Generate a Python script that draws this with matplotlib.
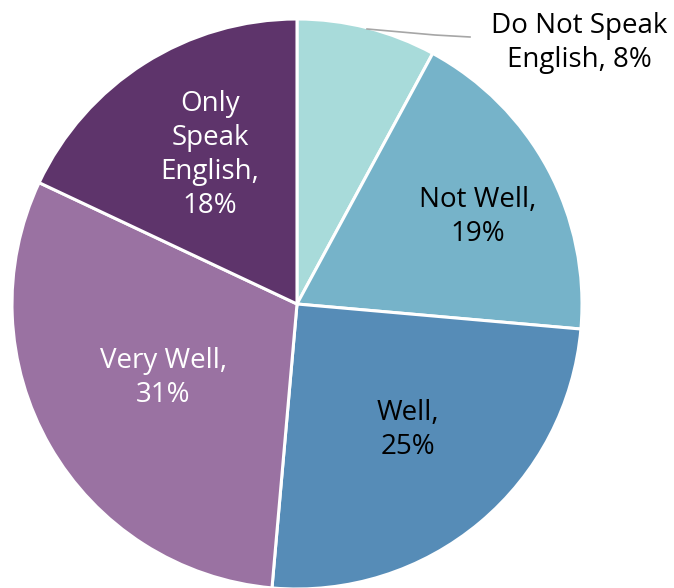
import matplotlib
matplotlib.use("Agg")
import matplotlib.pyplot as plt

labels = ["Do Not Speak\nEnglish, 8%", "Not Well,\n19%", "Well,\n25%",
          "Very Well,\n31%", "Only\nSpeak\nEnglish,\n18%"]
values = [7.9, 18.5, 25.0, 30.6, 18.0]
colors = ["#A8DBDA", "#76B3C9", "#568CB7", "#9A72A2", "#5E346B"]
text_colors = ["black", "black", "black", "white", "white"]

# label positions in pixel coords (x, y from top)
label_pos = [(579, 43), (478, 217), (408, 430), (163, 378), (210, 155)]

plt.rcParams['font.family'] = ['Open Sans', 'DejaVu Sans']

W, H = 674, 588
fig = plt.figure(figsize=(W / 100, H / 100), dpi=100)
ax = fig.add_axes([0, 0, 1, 1])

cx, cy, r = 297, H - 304, 285
ax.pie(values, colors=colors, startangle=90, counterclock=False,
       center=(cx, cy), radius=r, frame=True,
       wedgeprops=dict(edgecolor='white', linewidth=2.2))
ax.set_xlim(0, W)
ax.set_ylim(0, H)
ax.set_aspect('equal')
ax.axis('off')

for lab, (x, y), c in zip(labels, label_pos, text_colors):
    ax.text(x, H - y, lab, ha='center', va='center', color=c,
            fontsize=20, linespacing=1.3)

# leader line for the small slice
ax.plot([367, 435, 470], [H - 29, H - 35, H - 37], color='#A6A6A6', lw=1.2)

fig.savefig("out.png", dpi=100)
